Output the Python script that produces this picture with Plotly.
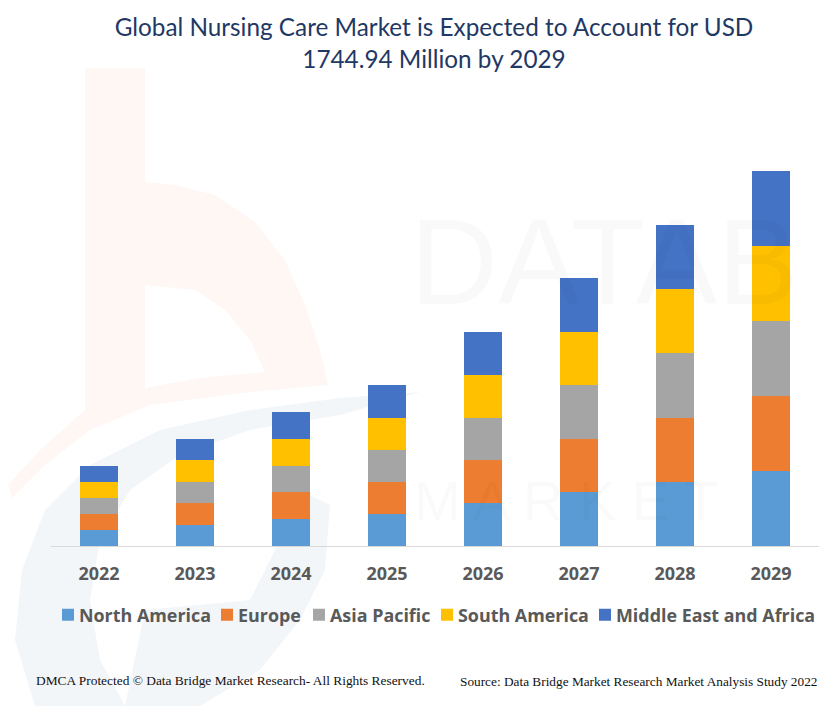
import plotly.graph_objects as go

years = ['2022', '2023', '2024', '2025', '2026', '2027', '2028', '2029']

north_america = [74, 98, 126, 149, 200, 251, 298, 349]
europe = [74, 102, 126, 149, 200, 247, 298, 349]
asia_pacific = [74, 98, 121, 149, 195, 251, 302, 349]
south_america = [74, 102, 126, 149, 200, 247, 298, 349]
middle_east_africa = [74, 98, 126, 154, 200, 251, 298, 349]

WIDTH = 834
HEIGHT = 706
LEFT, RIGHT, TOP, BOTTOM = 51, 15, 159, 160

# drop the default page margin and pull the legend swatches closer to their labels
POST_SCRIPT = """
document.body.style.margin = '0';
document.querySelectorAll('.legendpoints').forEach(function (el) { el.setAttribute('transform', 'translate(9,0)'); });
"""


def px_x(x):
    return (x - LEFT) / (WIDTH - LEFT - RIGHT)


def px_y(y):
    return (HEIGHT - BOTTOM - y) / (HEIGHT - TOP - BOTTOM)


def path(points):
    return 'M ' + ' L '.join(f'{px_x(x):.4f},{px_y(y):.4f}' for x, y in points) + ' Z'


def watermark(points, color):
    return dict(type='path', xref='paper', yref='paper', layer='below', line=dict(width=0), fillcolor=color, path=path(points))


def footer(text, x, y, anchor, size):
    return dict(text=text, x=px_x(x), y=px_y(y), xanchor=anchor, yanchor='middle', showarrow=False, xref='paper', yref='paper',
                font=dict(family='Liberation Serif', size=size, color='#111111'))


fig = go.Figure()
series = [
    ('North America', north_america, '#5B9BD5', 'legend', 79),
    ('Europe', europe, '#ED7D31', 'legend2', 238),
    ('Asia Pacific', asia_pacific, '#A5A5A5', 'legend3', 330),
    ('South America', south_america, '#FFC000', 'legend4', 458),
    ('Middle East and Africa', middle_east_africa, '#4472C4', 'legend5', 616),
]
legends = {}
for name, values, color, legend, text_x in series:
    fig.add_trace(go.Bar(x=years, y=values, name=name, legend=legend, showlegend=True,
                         marker=dict(color=color, line=dict(width=0)), width=0.396))
    legends[legend] = dict(x=px_x(text_x - 40), xanchor='left', y=px_y(615), yanchor='middle', itemwidth=30,
                           bgcolor='rgba(0,0,0,0)', font=dict(family='Open Sans', size=17.9, color='#595959', weight='bold'))

# faint logo behind the chart
shapes = [
    watermark([(85, 68), (145, 68), (145, 182), (175, 185), (215, 195), (255, 222), (285, 260), (305, 305), (320, 350), (328, 385),
               (250, 392), (150, 405), (90, 430), (45, 465), (12, 498), (8, 485), (40, 450), (85, 410)], '#FEF7F3'),
    watermark([(145, 285), (195, 290), (225, 310), (250, 340), (265, 372), (200, 378), (145, 388)], '#FFFFFF'),
    watermark([(15, 640), (22, 570), (45, 510), (90, 465), (160, 430), (250, 410), (340, 398), (420, 392), (340, 415), (250, 430),
               (180, 455), (130, 490), (100, 540), (90, 600), (100, 660), (125, 706), (35, 706)], '#F3F6F9'),
    watermark([(330, 505), (325, 570), (300, 620), (260, 670), (200, 706), (125, 706), (145, 610), (250, 600), (280, 540), (300, 490)], '#F3F6F9'),
]

annotations = [
    dict(text='DATAB', x=px_x(408), y=px_y(262), xanchor='left', yanchor='middle', showarrow=False, xref='paper', yref='paper',
         font=dict(family='Liberation Sans', size=122, color='rgba(0,0,0,0.025)')),
    dict(text='M A R K E T', x=px_x(412), y=px_y(500), xanchor='left', yanchor='middle', showarrow=False, xref='paper', yref='paper',
         font=dict(family='Liberation Sans', size=56, color='rgba(0,0,0,0.02)')),
    footer('DMCA Protected © Data Bridge Market Research- All Rights Reserved.', 34, 680, 'left', 13.4),
    footer('Source: Data Bridge Market Research Market Analysis Study 2022', 819, 681, 'right', 13.3),
]

fig.update_layout(
    width=WIDTH,
    height=HEIGHT,
    barmode='stack',
    title=dict(text='Global Nursing Care Market is Expected to Account for USD<br>1744.94 Million by 2029',
               x=434 / WIDTH, xanchor='center', y=1 - 36 / HEIGHT, yanchor='top',
               font=dict(family='Lato', size=24.3, color='#1F3864')),
    margin=dict(l=LEFT, r=RIGHT, t=TOP, b=BOTTOM, autoexpand=False),
    paper_bgcolor='white',
    plot_bgcolor='rgba(0,0,0,0)',
    shapes=shapes,
    annotations=annotations,
    **legends,
)
fig.update_xaxes(type='category', showline=True, linecolor='#D9D9D9', linewidth=1, showgrid=False, ticks='',
                 tickfont=dict(family='Open Sans', size=18, color='#595959', weight='bold'), ticklabelstandoff=11)
fig.update_yaxes(range=[0, 1800], visible=False, showgrid=False)

fig.write_html("out.html", post_script=POST_SCRIPT, config=dict(displayModeBar=False))
